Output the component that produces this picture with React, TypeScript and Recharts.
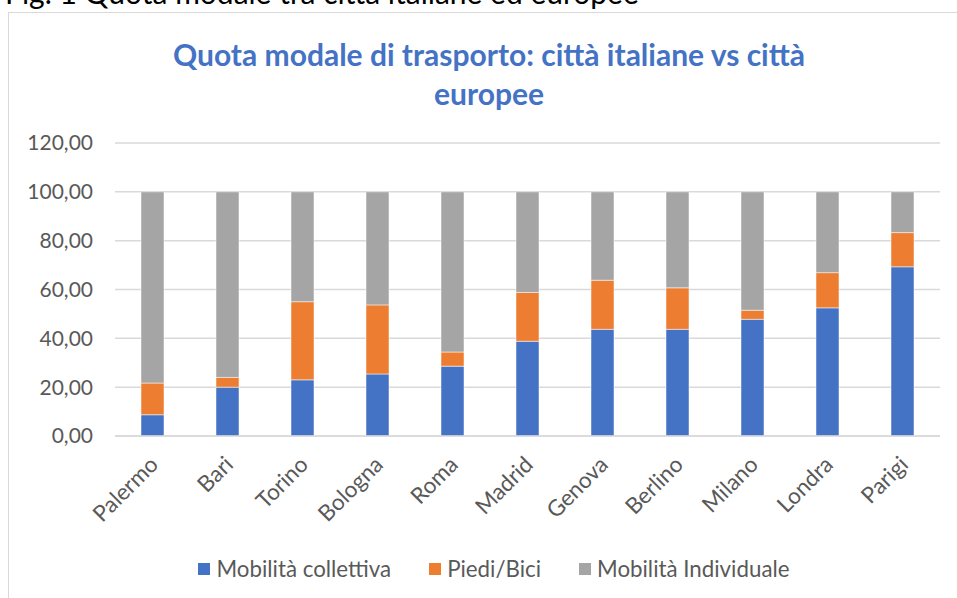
import React from 'react';
import { BarChart, Bar, XAxis, YAxis, CartesianGrid } from 'recharts';

const cities = ['Palermo', 'Bari', 'Torino', 'Bologna', 'Roma', 'Madrid', 'Genova', 'Berlino', 'Milano', 'Londra', 'Parigi'];
const collettiva = [8.7, 20, 23, 25.4, 28.6, 38.8, 43.7, 43.7, 47.8, 52.5, 69.3];
const piediBici = [13, 4, 32, 28.3, 5.8, 20, 20.1, 17, 3.7, 14.4, 14];
const individuale = [78.3, 76, 45, 46.3, 65.6, 41.2, 36.2, 39.3, 48.5, 33.1, 16.7];
const yTicks = [0, 20, 40, 60, 80, 100, 120];

const FONT = 'Lato, "Noto Sans", sans-serif';
const GREY_TEXT = '#595959';

const data = cities.map((city, i) => ({
  city,
  collettiva: collettiva[i],
  piedi: piediBici[i],
  individuale: individuale[i],
}));

const series = [
  { key: 'collettiva', name: 'Mobilità collettiva', color: '#4472C4' },
  { key: 'piedi', name: 'Piedi/Bici', color: '#ED7D31' },
  { key: 'individuale', name: 'Mobilità Individuale', color: '#A5A5A5' },
];

// rotated category label, end of the text sits just under the tick
const CityTick = (props: any) => {
  const { x, y, payload } = props;
  const tx = x + 7;
  const ty = y + 22;
  return (
    <text
      x={tx}
      y={ty}
      textAnchor="end"
      transform={`rotate(-45 ${tx} ${ty})`}
      fill={GREY_TEXT}
      fontSize={22.5}
      fontFamily={FONT}
    >
      {payload.value}
    </text>
  );
};

export default function App() {
  return (
    <div style={{ position: 'absolute', left: 0, top: 0, width: 957, height: 598, overflow: 'hidden', background: '#fff' }}>
      <div
        style={{
          position: 'absolute', left: 5, top: -23, fontFamily: FONT, fontSize: 30, lineHeight: '30px',
          color: '#000', whiteSpace: 'nowrap',
        }}
      >
        Fig. 1 Quota modale tra città italiane ed europee
      </div>
      <div style={{ position: 'absolute', left: 8, top: 12, width: 980, height: 620, border: '1.5px solid #d9d9d9' }} />
      <div
        style={{
          position: 'absolute', left: 9, top: 35, width: 960, textAlign: 'center',
          fontFamily: FONT, fontWeight: 700, fontSize: 30, lineHeight: '39px', color: '#4472C4',
        }}
      >
        Quota modale di trasporto: città italiane vs città
        <br />
        europee
      </div>
      <div style={{ position: 'absolute', left: 0, top: 0 }}>
        <BarChart width={957} height={598} data={data} margin={{ top: 143, right: 17, bottom: 132, left: 0 }}>
          <CartesianGrid vertical={false} stroke="#d9d9d9" strokeWidth={1.5} />
          <XAxis
            dataKey="city"
            height={30}
            tick={<CityTick />}
            tickLine={false}
            axisLine={{ stroke: '#d9d9d9', strokeWidth: 1.5 }}
            interval={0}
          />
          <YAxis
            width={115}
            domain={[0, 120]}
            ticks={yTicks}
            tickFormatter={(v) => v.toFixed(2).replace('.', ',')}
            axisLine={false}
            tickLine={false}
            tickSize={0}
            tickMargin={22}
            tick={{ fill: GREY_TEXT, fontSize: 21, fontFamily: FONT }}
          />
          {series.map((s) => (
            <Bar
              key={s.key}
              dataKey={s.key}
              name={s.name}
              stackId="a"
              fill={s.color}
              stroke="#ffffff"
              strokeWidth={0.5}
              barSize={23}
              isAnimationActive={false}
            />
          ))}
        </BarChart>
      </div>
      <div
        style={{
          position: 'absolute', left: 0, top: 555, width: 957, paddingLeft: 31, boxSizing: 'border-box',
          display: 'flex', justifyContent: 'center', fontFamily: FONT, fontSize: 22.3, color: GREY_TEXT,
        }}
      >
        {series.map((s) => (
          <div key={s.key} style={{ display: 'flex', alignItems: 'center', margin: '0 19px' }}>
            <span style={{ width: 12, height: 12, background: s.color, display: 'inline-block', marginRight: 6 }} />
            <span>{s.name}</span>
          </div>
        ))}
      </div>
    </div>
  );
}
